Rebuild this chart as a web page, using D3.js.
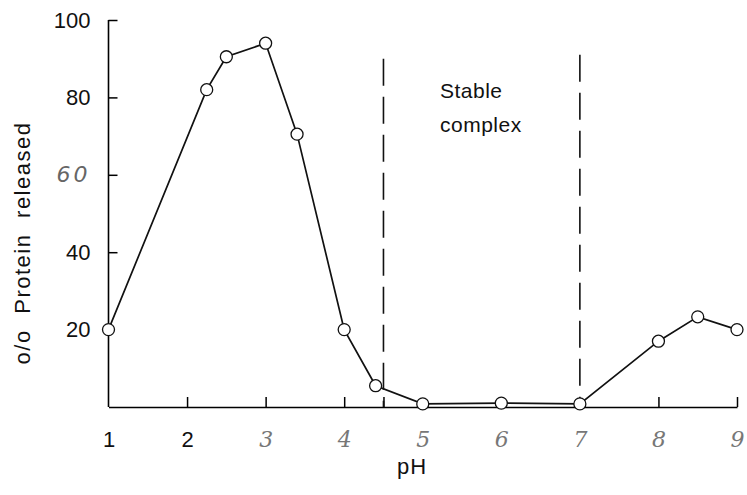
<!DOCTYPE html>
<html>
<head>
<meta charset="utf-8">
<script src="https://cdn.jsdelivr.net/npm/d3@7"></script>
<style>
  body { margin: 0; background: #fff; }
  svg { display: block; }
</style>
</head>
<body>
<div id="chart"></div>
<script>
// chart size matches the window
const width = 747;
const height = 495;

// measured points: pH and % protein released
const phValues = [1, 2.25, 2.5, 3, 3.4, 4, 4.4, 5, 6, 7, 8, 8.5, 9];
const releasedValues = [20, 82, 90.5, 94, 70.5, 20, 5.5, 0.8, 1, 0.8, 17, 23.3, 20];

// tick labels
const xTicks = [1, 2, 3, 4, 5, 6, 7, 8, 9];
const xTickMarks = [1, 2, 3, 4, 4.5, 5, 6, 7, 8, 9];
const yTicks = [20, 40, 60, 80, 100];

// dashed limits of the stable region (pH) and how high they go (%)
const boundaryPh = [4.5, 7];
const boundaryTop = [90, 91];

const svg = d3.select("#chart")
  .append("svg")
    .attr("width", width)
    .attr("height", height);

const x = d3.scaleLinear().domain([1, 9]).range([108.5, 737]);
const y = d3.scaleLinear().domain([0, 100]).range([407, 20]);

const sans = "'Liberation Sans', Arial, sans-serif";

// left axis, ticks pointing inward
const yAxis = svg.append("g")
  .attr("transform", `translate(${x(1)},0)`)
  .call(d3.axisLeft(y).tickValues(yTicks).tickSizeInner(-9).tickSizeOuter(0).tickPadding(18));

yAxis.select(".domain").attr("d", `M0,${y(100)}V${y(0)}`).attr("stroke-width", 1.6);
yAxis.selectAll(".tick line").attr("stroke-width", 1.5);
yAxis.selectAll(".tick text")
  .style("font-family", sans)
  .style("font-size", "22px")
  .attr("fill", "#111")
  .filter(d => d === 60)
    .style("font-style", "italic")
    .style("font-family", "'DejaVu Sans', sans-serif")
    .style("font-weight", "300")
    .style("letter-spacing", "3px")
    .attr("fill", "#666");
// the 20 tick is covered by the first point
yAxis.selectAll(".tick line").filter(d => d === 20).remove();

// bottom axis, ticks pointing up
const xAxis = svg.append("g")
  .attr("transform", `translate(0,${y(0)})`)
  .call(d3.axisBottom(x).tickValues(xTickMarks).tickSizeInner(-10).tickSizeOuter(0).tickPadding(24)
    .tickFormat(d => xTicks.includes(d) ? d : ""));

xAxis.select(".domain").attr("stroke-width", 1.6);
xAxis.selectAll(".tick line").attr("stroke-width", 1.5)
  .filter(d => d === 1 || d === 5 || d === 6 || d === 7).remove();
xAxis.selectAll(".tick text")
  .style("font-size", "22px")
  .style("font-family", "'DejaVu Serif', serif")
  .style("font-style", "italic")
  .style("font-weight", "300")
  .attr("fill", "#777")
  .filter(d => d <= 2)
    .style("font-family", sans)
    .style("font-style", "normal")
    .attr("fill", "#111");

// dashed lines bounding the stable complex
svg.append("g")
  .selectAll("line")
  .data(boundaryPh)
  .join("line")
    .attr("x1", d => x(d))
    .attr("x2", d => x(d))
    .attr("y1", (d, i) => y(boundaryTop[i]))
    .attr("y2", y(0))
    .attr("stroke", "#111")
    .attr("stroke-width", 1.6)
    .attr("stroke-dasharray", "27,11");

svg.append("text")
  .attr("x", 440)
  .attr("y", 98)
  .style("font-family", sans)
  .style("font-size", "21px")
  .style("letter-spacing", "0.5px")
  .attr("fill", "#111")
  .text("Stable");

svg.append("text")
  .attr("x", 440)
  .attr("y", 132)
  .style("font-family", sans)
  .style("font-size", "21px")
  .style("letter-spacing", "0.5px")
  .attr("fill", "#111")
  .text("complex");

// data line
const points = phValues.map((p, i) => ({ ph: p, value: releasedValues[i] }));

svg.append("path")
  .datum(points)
  .attr("fill", "none")
  .attr("stroke", "#111")
  .attr("stroke-width", 1.7)
  .attr("d", d3.line().x(d => x(d.ph)).y(d => y(d.value)));

svg.append("g")
  .selectAll("circle")
  .data(points)
  .join("circle")
    .attr("cx", d => x(d.ph))
    .attr("cy", d => y(d.value))
    .attr("r", 6)
    .attr("fill", "#fff")
    .attr("stroke", "#111")
    .attr("stroke-width", 1.3);

// axis titles
svg.append("text")
  .attr("x", 412)
  .attr("y", 474)
  .attr("text-anchor", "middle")
  .style("font-family", sans)
  .style("font-size", "22px")
  .style("letter-spacing", "1px")
  .attr("fill", "#111")
  .text("pH");

svg.append("text")
  .attr("transform", "translate(30,243) rotate(-90)")
  .attr("text-anchor", "middle")
  .style("font-family", sans)
  .style("font-size", "22px")
  .style("word-spacing", "8px")
  .style("letter-spacing", "1.5px")
  .attr("fill", "#111")
  .text("o/o Protein released");
</script>
</body>
</html>
